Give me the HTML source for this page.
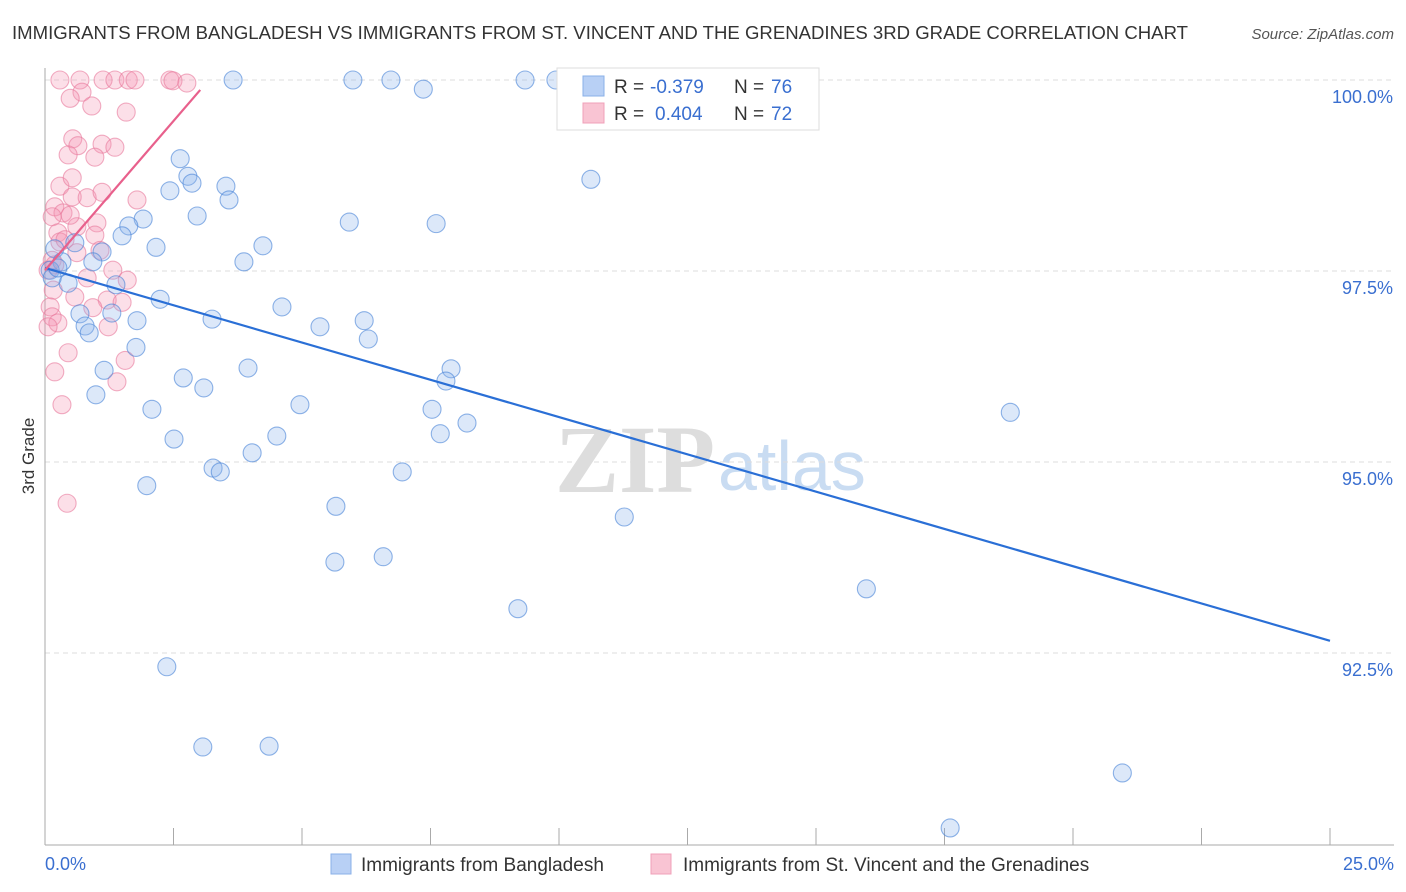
<!DOCTYPE html>
<html><head><meta charset="utf-8"><style>
body{margin:0;background:#fff;font-family:"Liberation Sans",sans-serif;}
svg{display:block}
</style></head><body>
<svg id="chart" width="1406" height="892">
<text x="12" y="39" font-size="18" fill="#333" textLength="1176" lengthAdjust="spacingAndGlyphs">IMMIGRANTS FROM BANGLADESH VS IMMIGRANTS FROM ST. VINCENT AND THE GRENADINES 3RD GRADE CORRELATION CHART</text>
<text x="1394" y="39" font-size="15" fill="#555" text-anchor="end" font-style="italic">Source: ZipAtlas.com</text>
<text transform="translate(34,456) rotate(-90)" font-size="17" fill="#333" text-anchor="middle">3rd Grade</text>
<g><text x="555" y="492" font-size="96" fill="#ddd" font-family="Liberation Serif,serif" font-weight="bold">ZIP</text><text x="718" y="490" font-size="70" fill="#c9dcf2">atlas</text></g>
<g id="grid"></g><g id="pts"></g><g id="lines"></g>
<g>
<rect x="557" y="68" width="262" height="62" fill="#fff" stroke="#ddd"/>
<rect x="583" y="76" width="21" height="20" fill="#b8d0f5" stroke="#8ab0e8"/>
<rect x="583" y="103" width="21" height="20" fill="#f9c4d3" stroke="#f0a0b8"/>
<g font-size="19">
<text x="614" y="93" fill="#333">R =</text><text x="650" y="93" fill="#3a6fd0">-0.379</text>
<text x="734" y="93" fill="#333">N =</text><text x="771" y="93" fill="#3a6fd0">76</text></g>
<g font-size="19">
<text x="614" y="120" fill="#333">R =</text><text x="655" y="120" fill="#3a6fd0">0.404</text>
<text x="734" y="120" fill="#333">N =</text><text x="771" y="120" fill="#3a6fd0">72</text></g>
</g>
<g>
<rect x="331" y="854" width="20" height="20" fill="#b8d0f5" stroke="#8ab0e8"/>
<text x="361" y="871" font-size="19" fill="#333">Immigrants from Bangladesh</text>
<rect x="651" y="854" width="20" height="20" fill="#f9c4d3" stroke="#f0a0b8"/>
<text x="683" y="871" font-size="19" fill="#333">Immigrants from St. Vincent and the Grenadines</text>
</g>
</svg>
<script>
const blueX=[3.66,5.99,6.73,9.34,9.94,7.36,10.62,2.63,2.78,2.86,2.43,3.52,3.58,2.96,1.91,1.63,1.50,5.92,7.61,2.16,4.24,3.87,1.11,0.58,0.19,0.33,0.10,0.93,0.45,0.14,0.25,1.38,2.24,4.61,1.79,1.30,0.68,0.78,0.86,3.25,5.35,6.21,6.29,1.77,3.95,1.15,2.69,7.90,7.80,3.09,0.99,4.96,2.08,7.53,18.78,8.21,7.69,4.51,2.51,4.03,3.27,3.41,6.95,1.98,5.66,11.27,6.58,5.64,9.20,15.98,2.37,3.07,4.36,20.96,17.61];
const blueY=[100,100,100,100,100,99.88,98.70,98.97,98.74,98.65,98.55,98.61,98.43,98.22,98.18,98.09,97.96,98.14,98.12,97.81,97.83,97.62,97.75,97.87,97.79,97.62,97.51,97.62,97.34,97.41,97.54,97.32,97.13,97.03,96.85,96.95,96.94,96.78,96.69,96.87,96.77,96.85,96.61,96.50,96.23,96.20,96.10,96.22,96.06,95.97,95.88,95.75,95.69,95.69,95.65,95.51,95.37,95.34,95.30,95.12,94.92,94.87,94.87,94.69,94.42,94.28,93.76,93.69,93.08,93.34,92.32,91.27,91.28,90.93,90.21];
const pinkX=[0.29,0.68,1.13,1.36,1.62,1.75,2.43,2.49,2.76,0.72,0.49,0.91,1.58,0.54,0.64,1.11,1.36,0.45,0.97,0.29,0.53,0.53,0.82,1.11,1.79,0.19,0.35,0.62,1.01,0.97,0.14,0.25,0.29,0.62,1.07,0.14,0.82,1.32,1.60,0.16,0.58,1.21,1.50,0.93,0.10,0.14,0.25,0.06,1.23,0.45,1.56,0.19,1.40,0.33,0.43,0.19,0.06,0.39,0.49];
const pinkY=[100,100,100,100,100,100,100,99.99,99.96,99.84,99.76,99.66,99.58,99.23,99.14,99.16,99.12,99.02,98.99,98.61,98.72,98.47,98.46,98.53,98.43,98.34,98.26,98.08,98.13,97.97,98.21,98.0,97.88,97.74,97.77,97.64,97.41,97.51,97.38,97.25,97.16,97.12,97.09,97.02,97.03,96.90,96.82,96.77,96.77,96.43,96.33,96.18,96.05,95.75,94.46,97.58,97.51,97.91,98.23];
const yTicks=[100,97.5,95,92.5];
const yTickLabels=["100.0%","97.5%","95.0%","92.5%"];
const blueTrend=[[0,97.54],[25,92.66]];
const pinkTrend=[[0,97.51],[3.02,99.87]];
const NS="http://www.w3.org/2000/svg";
const sx=v=>45+v/25*1285, sy=v=>80+(100-v)/2.5*191;
function mk(p,t,a){const e=document.createElementNS(NS,t);for(const k in a)e.setAttribute(k,a[k]);p.appendChild(e);return e;}
const grid=document.getElementById('grid');
yTicks.forEach((t,i)=>{
 const l=mk(grid,'line',{x1:45,x2:1394,y1:sy(t),y2:sy(t),stroke:'#ddd','stroke-dasharray':'5,4'});
 
 
 const tx=mk(grid,'text',{x:1393,y:sy(t)+23,'font-size':18,fill:'#3a6fd0','text-anchor':'end'});
 tx.textContent=yTickLabels[i];
 
 
});
const ax=mk(grid,'line',{x1:45,x2:45,y1:68,y2:845,stroke:'#aaa'});


const bx=mk(grid,'line',{x1:45,x2:1394,y1:845,y2:845,stroke:'#aaa'});


for(let i=0;i<=10;i++){const t=mk(grid,'line',{x1:sx(i*2.5),x2:sx(i*2.5),y1:828,y2:845,stroke:'#aaa'});
 
 }
const x0=mk(grid,'text',{x:45,y:870,'font-size':18,fill:'#3a6fd0'});x0.textContent='0.0%';


const x1=mk(grid,'text',{x:1394,y:870,'font-size':18,fill:'#3a6fd0','text-anchor':'end'});x1.textContent='25.0%';


const pts=document.getElementById('pts');
pinkX.forEach((v,i)=>{const c=mk(pts,'circle',{cx:sx(v),cy:sy(pinkY[i]),r:9,fill:'rgba(244,150,180,0.3)',stroke:'rgba(232,120,155,0.6)','stroke-width':1.1});
 
 });
blueX.forEach((v,i)=>{const c=mk(pts,'circle',{cx:sx(v),cy:sy(blueY[i]),r:9,fill:'rgba(140,180,235,0.3)',stroke:'rgba(70,130,215,0.6)','stroke-width':1.1});
 
 });
const lines=document.getElementById('lines');
const bl=mk(lines,'line',{x1:sx(blueTrend[0][0]),y1:sy(blueTrend[0][1]),x2:sx(blueTrend[1][0]),y2:sy(blueTrend[1][1]),stroke:'#2a6fd6','stroke-width':2.2});


const pl=mk(lines,'line',{x1:sx(pinkTrend[0][0]),y1:sy(pinkTrend[0][1]),x2:sx(pinkTrend[1][0]),y2:sy(pinkTrend[1][1]),stroke:'#e8608c','stroke-width':2.2});


</script>
</body></html>
